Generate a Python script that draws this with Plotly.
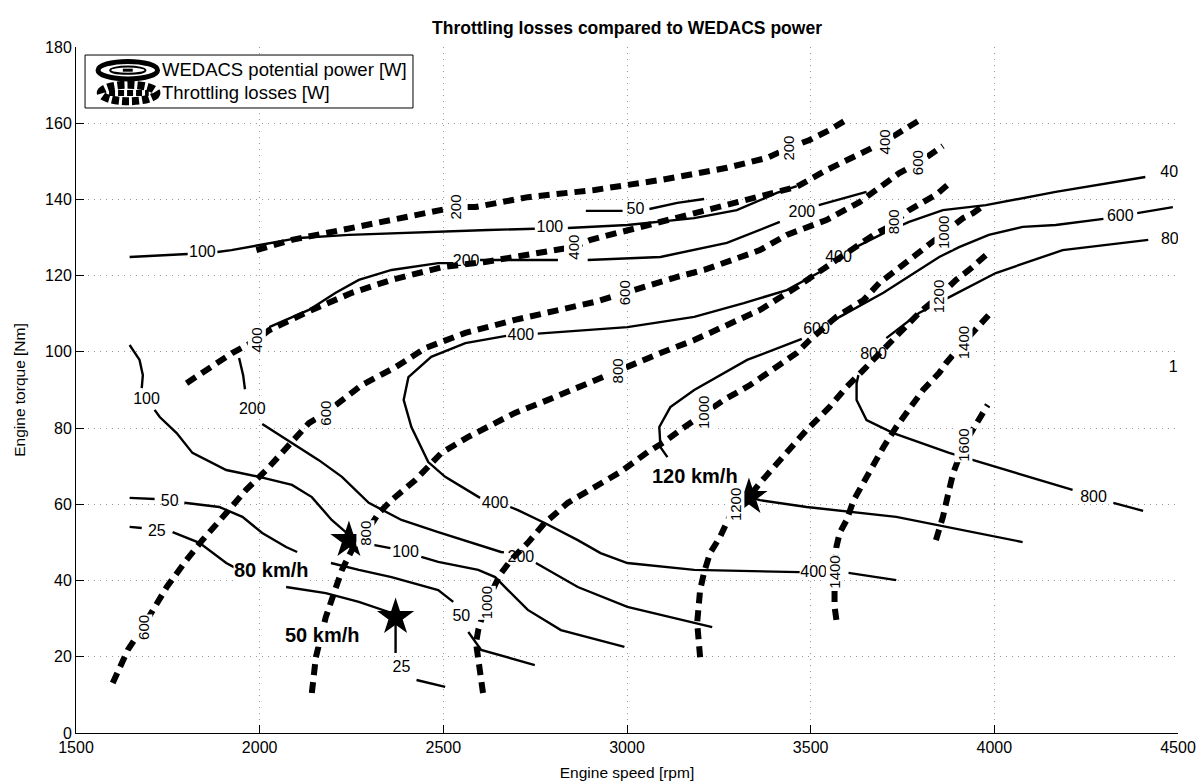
import plotly.graph_objects as go

# ---------------- WEDACS potential power contours [W] (solid) ----------------
# None entries break the line where a contour label sits
w100_top_rpm = [1646, 1804, None, 1885, 1923, 2004, 2107, 2243, 2459, 2622, 2749, None, 2839, 3001, 3183, 3299, 3408, 3462]
w100_top_tq = [124.9, 125.7, None, 126.2, 126.7, 128.1, 129.9, 130.7, 131.5, 132.0, 132.3, None, 132.5, 133.3, 135.1, 137.2, 141.7, 143.5]

w50_top_rpm = [2888, 2988, None, 3061, 3137, 3210]
w50_top_tq = [137.0, 137.0, None, 137.5, 139.1, 140.1]

w200_top_rpm = [2026, 2134, 2207, 2270, 2359, 2486, 2527, None, 2600, 2812, None, 2893, 3091, 3272, 3416, None, 3522, 3652]
w200_top_tq = [106.5, 111.0, 115.5, 118.9, 121.5, 123.3, 123.3, None, 124.1, 124.1, None, 124.1, 124.9, 128.6, 134.1, None, 138.5, 142.0]

w400_rpm = [3733, 3603, None, 3470, 3183, 3001, 2928, 2866, 2776, 2703, 2682, None, 2600, 2505, 2459, 2413, 2392,
            2405, 2467, 2560, 2671, None, 2757, 3001, 3183, 3318, 3435, 3535, None, 3619, 3706, 3768, 3822, 3860,
            3977, 4167, 4411]
w400_tq = [40.1, 42.0, None, 42.2, 42.8, 44.6, 47.2, 50.6, 55.1, 58.5, 59.3, None, 61.7, 67.2, 71.1, 80.3, 87.4,
           93.4, 98.7, 102.3, 104.2, None, 104.8, 106.5, 109.2, 112.8, 116.2, 121.5, None, 127.3, 131.5, 134.1, 135.9, 137.2,
           138.5, 142.0, 145.9]

w600_rpm = [3110, 3091, 3088, 3118, 3183, 3327, 3476, None, 3557, 3579, 3698, 3787, 3850, 3904, 3985, 4077, 4167, 4297, None, 4389, 4486]
w600_tq = [72.4, 75.0, 80.3, 85.5, 90.0, 97.9, 103.4, None, 107.8, 109.2, 115.5, 121.0, 124.9, 127.5, 130.7, 132.8, 133.3, 134.9, None, 136.4, 138.0]

w800_rpm = [4405, 4324, None, 4213, 3958, 3877, 3725, 3652, 3625, 3625, 3630, None, 3706, 3795, 3888, 4004, 4186, 4419]
w800_tq = [58.3, 60.4, None, 63.8, 71.1, 73.5, 78.7, 82.1, 87.4, 91.8, 93.9, None, 103.6, 110.2, 114.9, 120.7, 126.7, 129.4]

w100_low_rpm = [1646, 1673, 1682, 1679, None, 1714, 1728, 1774, 1817, 1909, 1999, 2088, 2142, 2196, 2243, 2270, 2356,
                None, 2440, 2486, 2595, 2641, 2676, 2730, 2820, 2993]
w100_low_tq = [101.8, 97.9, 93.9, 90.5, None, 84.8, 82.9, 78.7, 73.5, 69.0, 67.2, 65.1, 61.9, 55.9, 52.0, 50.1, 48.5,
               None, 46.2, 44.9, 42.8, 40.9, 37.5, 32.3, 27.0, 22.6]

w200_low_rpm = [1944, 1955, 1960, None, 2007, 2088, 2161, 2224, 2297, 2386, 2486, 2657, 2665, None, 2752, 2866, 3001, 3232]
w200_low_tq = [98.4, 93.9, 90.2, None, 81.1, 76.1, 71.6, 67.2, 60.4, 55.9, 52.7, 47.5, 47.4, None, 44.6, 38.3, 33.1, 27.8]

w50_low_rpm = [1646, 1714, None, 1795, 1890, 1953, 2007, 2072, 2102, None, 2194, 2270, 2359, 2486, 2527, None, 2568, 2603, 2749]
w50_low_tq = [61.7, 61.4, None, 60.4, 59.3, 56.7, 52.5, 48.8, 47.5, None, 44.6, 42.8, 40.9, 37.5, 34.4, None, 26.5, 21.8, 17.8]

w25_rpm = [1646, 1679, None, 1763, 1836, 1909, 1944, None, 2072, 2180, 2270, 2359, 2370, 2370, None, 2427, 2486, 2505]
w25_tq = [54.1, 53.8, None, 52.7, 49.9, 44.6, 42.8, None, 38.3, 36.7, 34.4, 31.5, 30.4, 21.0, None, 13.9, 12.6, 12.1]

w_hi_rpm = [3332, 3362, 3489, 3733, 4077]
w_hi_tq = [61.9, 61.1, 59.3, 56.7, 50.1]

# labels on the solid contours (the ones near 4500 rpm are cut by the right border)
wlab_rpm = [1844, 2790, 3023, 2562, 3476, 3508, 2641, 2711, 3576, 4488, 3516, 4343, 4270, 3671, 4490, 4487,
            1692, 2397, 1980, 2711, 1755, 2549, 1720, 2386]
wlab_tq = [126.0, 132.5, 137.2, 123.6, 136.4, 42.0, 60.1, 104.2, 124.6, 146.9, 105.7, 135.4, 61.7, 99.2, 129.4, 95.8,
           87.4, 47.2, 84.8, 45.9, 60.6, 30.4, 52.7, 17.1]
wlab_text = ["100", "100", "50", "200", "200", "400", "400", "400", "400", "400", "600", "600", "800", "800", "800", "1",
             "100", "100", "200", "200", "50", "50", "25", "25"]

# ---------------- Throttling losses contours [W] (thick dashed) ----------------
t200_rpm = [1991, 2088, 2224, 2359, 2467, 2533, 2587, 2730, 2912, 3091, 3272, 3381, 3440, 3497, 3551, 3592]
t200_tq = [126.7, 129.4, 132.0, 134.6, 136.4, 138.0, 138.0, 140.6, 142.5, 145.1, 148.3, 150.9, 153.5, 155.6, 158.2, 160.6]

t400_rpm = [1801, 1855, 1925, 1991, 2026, 2142, 2251, 2359, 2459, 2500, 2614, 2785, 2852, 2901, 3056, 3191, 3327,
            3462, 3543, 3617, 3701, 3752, 3793]
t400_tq = [91.8, 95.3, 99.7, 103.1, 105.7, 111.0, 115.5, 118.9, 121.5, 122.3, 123.6, 126.2, 127.5, 129.4, 133.3, 136.4, 139.9,
           143.3, 147.7, 151.1, 155.1, 158.2, 160.6]

t600_rpm = [1600, 1641, 1682, 1720, 1747, 1801, 1844, 1909, 1963, 2018, 2072, 2134, 2180, 2224, 2278, 2370, 2451, 2560,
            2695, 2912, 2993, 3056, 3137, 3210, 3272, 3362, 3435, 3543, 3633, 3698, 3741, 3793, 3841, 3860]
t600_tq = [13.1, 21.8, 27.8, 34.1, 38.3, 45.4, 50.6, 57.7, 63.8, 69.0, 75.0, 81.3, 84.0, 87.4, 91.3, 96.0, 101.0, 105.0,
           108.4, 113.1, 115.5, 117.0, 119.7, 121.5, 123.6, 126.7, 130.7, 134.6, 139.3, 143.8, 146.9, 149.6, 153.0, 154.0]

t800_rpm = [2142, 2153, 2180, 2207, 2224, 2251, 2289, 2324, 2359, 2424, 2495, 2568, 2695, 2785, 2912, 2974, 3020, 3091,
            3183, 3272, 3362, 3462, 3535, 3570, 3671, 3706, 3728, 3768, 3841, 3882]
t800_tq = [10.5, 19.9, 30.4, 37.5, 42.8, 48.0, 52.5, 57.7, 61.1, 66.4, 73.5, 77.7, 84.0, 87.4, 92.6, 95.0, 97.1, 99.7,
           103.1, 107.1, 111.0, 117.0, 121.5, 124.1, 130.7, 132.5, 134.1, 137.2, 141.2, 144.6]

t1000_rpm = [2608, 2595, 2589, 2595, 2617, 2654, 2684, 2730, 2776, 2839, 2912, 2982, 3056, 3102, 3145, 3210, 3264, 3335,
             3462, 3497, 3570, 3644, 3687, 3733, 3795, 3863, 3915, 3942, 3977]
t1000_tq = [10.5, 18.4, 23.6, 27.0, 34.1, 41.5, 45.4, 49.9, 55.1, 60.4, 64.6, 68.5, 73.7, 76.4, 79.5, 84.0, 87.4, 91.3,
            99.7, 103.1, 109.2, 113.6, 118.1, 121.5, 126.0, 131.2, 135.1, 136.4, 138.8]

t1200_rpm = [3199, 3191, 3199, 3210, 3226, 3253, 3294, 3332, 3362, 3408, 3454, 3489, 3551, 3598, 3644, 3698, 3752, 3795,
             3847, 3896, 3931, 3977]
t1200_tq = [19.9, 28.9, 37.5, 42.2, 47.2, 51.4, 59.8, 61.9, 65.6, 70.8, 76.1, 79.5, 85.5, 90.8, 95.3, 100.5, 105.7, 110.2,
            114.4, 118.9, 121.5, 125.4]

t1400_rpm = [3570, 3565, 3565, 3570, 3579, 3598, 3617, 3652, 3679, 3698, 3733, 3768, 3806, 3850, 3869, 3915, 3969, 3985]
t1400_tq = [29.7, 33.2, 42.2, 48.8, 52.5, 55.9, 61.1, 67.2, 71.6, 75.0, 80.3, 84.8, 90.0, 94.5, 97.1, 102.3, 107.8, 109.7]

t1600_rpm = [3841, 3860, 3877, 3888, 3917, 3955, 3982]
t1600_tq = [50.6, 56.7, 63.8, 68.2, 75.6, 82.1, 86.1]

# labels on the dashed contours
tlab_rpm = [2533, 3440, 1991, 2852, 3701, 1682, 2180, 2993, 3793, 2289, 2974, 3728, 2617, 3210, 3863, 3294, 3847,
            3565, 3915, 3917]
tlab_tq = [138.0, 153.5, 103.1, 127.5, 155.1, 27.8, 84.0, 115.5, 149.6, 52.5, 95.0, 134.1, 34.1, 84.0, 131.2, 59.8, 114.4,
           42.2, 102.3, 75.6]
tlab_text = ["200", "200", "400", "400", "400", "600", "600", "600", "600", "800", "800", "800", "1000", "1000", "1000",
             "1200", "1200", "1400", "1400", "1600"]

# ---------------- Cruise operating points ----------------
op_rpm = [2370, 2243, 3332]
op_tq = [30.4, 50.6, 61.9]
op_text = ["50 km/h", "80 km/h", "120 km/h"]
op_lab_rpm = [2170, 2031, 3185]
op_lab_tq = [25.7, 42.8, 67.5]

x_ticks = [1500, 2000, 2500, 3000, 3500, 4000, 4500]
y_ticks = [0, 20, 40, 60, 80, 100, 120, 140, 160, 180]

legend_names = ["WEDACS potential power [W]", "Throttling losses [W]"]

FONT = "Liberation Sans, Arial, Helvetica, sans-serif"
SOLID = dict(color="black", width=2.4)
DASHED = dict(color="black", width=6, dash="11px,7px")

fig = go.Figure()

solid_curves = [
    (w100_top_rpm, w100_top_tq), (w50_top_rpm, w50_top_tq), (w200_top_rpm, w200_top_tq),
    (w400_rpm, w400_tq), (w600_rpm, w600_tq), (w800_rpm, w800_tq),
    (w100_low_rpm, w100_low_tq), (w200_low_rpm, w200_low_tq), (w50_low_rpm, w50_low_tq),
    (w25_rpm, w25_tq), (w_hi_rpm, w_hi_tq),
]
for xs, ys in solid_curves:
    fig.add_trace(go.Scatter(x=xs, y=ys, mode="lines", line=SOLID, showlegend=False,
                             hoverinfo="skip", connectgaps=False))

# solid-contour labels go under the dashed lines
fig.add_trace(go.Scatter(x=wlab_rpm, y=wlab_tq, text=wlab_text, mode="text",
                         textfont=dict(family=FONT, size=16, color="black"),
                         showlegend=False, hoverinfo="skip", cliponaxis=True))

dashed_curves = [
    (t200_rpm, t200_tq), (t400_rpm, t400_tq), (t600_rpm, t600_tq), (t800_rpm, t800_tq),
    (t1000_rpm, t1000_tq), (t1200_rpm, t1200_tq), (t1400_rpm, t1400_tq), (t1600_rpm, t1600_tq),
]
for xs, ys in dashed_curves:
    fig.add_trace(go.Scatter(x=xs, y=ys, mode="lines", line=DASHED, showlegend=False,
                             hoverinfo="skip"))

# operating points
fig.add_trace(go.Scatter(x=op_rpm, y=op_tq, mode="markers",
                         marker=dict(symbol="star", size=28, color="black"),
                         showlegend=False, hoverinfo="skip"))

# dashed-contour labels, masking whatever lies beneath
for xv, yv, tv in zip(tlab_rpm, tlab_tq, tlab_text):
    fig.add_annotation(x=xv, y=yv, text=tv, showarrow=False, textangle=-90,
                       font=dict(family=FONT, size=15, color="black"),
                       bgcolor="white", borderpad=0)

for xv, yv, tv in zip(op_lab_rpm, op_lab_tq, op_text):
    fig.add_annotation(x=xv, y=yv, text="<b>%s</b>" % tv, showarrow=False,
                       font=dict(family=FONT, size=20, color="black"),
                       bgcolor="white", borderpad=0)

# ---- legend box (drawn by hand to get the contour-style glyphs) ----
P = dict(xref="paper", yref="paper", layer="above")
fig.add_shape(type="rect", x0=0.0082, x1=0.3058, y0=0.9111, y1=0.9883,
              line=dict(color="black", width=1), fillcolor="white", **P)
# solid-contour glyph: thick ring with an inner ring and a centre dash
fig.add_shape(type="circle", x0=0.0200, x1=0.0740, y0=0.9535, y1=0.9790,
              line=dict(color="black", width=5), fillcolor="white", **P)
fig.add_shape(type="circle", x0=0.0310, x1=0.0630, y0=0.9610, y1=0.9715,
              line=dict(color="black", width=2), fillcolor="white", **P)
fig.add_shape(type="line", x0=0.0425, x1=0.0515, y0=0.9662, y1=0.9662,
              line=dict(color="black", width=3), **P)
# dashed-contour glyph: blob of heavy dashes
fig.add_shape(type="circle", x0=0.0225, x1=0.0730, y0=0.9210, y1=0.9450,
              line=dict(color="black", width=8, dash="7px,3px"), fillcolor="white", **P)
fig.add_shape(type="line", x0=0.0300, x1=0.0660, y0=0.9330, y1=0.9330,
              line=dict(color="black", width=6, dash="6px,3px"), **P)
for i, name in enumerate(legend_names):
    fig.add_annotation(x=0.0760, y=0.9665 - i * 0.0335, xref="paper", yref="paper",
                       text=name, showarrow=False, xanchor="left", yanchor="middle",
                       font=dict(family=FONT, size=18.5, color="black"))

axis_common = dict(
    showline=True, linecolor="black", linewidth=1, mirror=False,
    ticks="inside", ticklen=8, tickcolor="black", tickwidth=1,
    showgrid=True, gridcolor="#9a9a9a", griddash="1px,5px", gridwidth=1,
    zeroline=False, tickfont=dict(family=FONT, size=16, color="black"),
    automargin=False,
)

fig.update_layout(
    width=1201, height=781,
    margin=dict(l=76, r=23, t=47, b=48),
    paper_bgcolor="white", plot_bgcolor="white",
    font=dict(family=FONT, size=16, color="black"),
    showlegend=False,
    title=dict(text="<b>Throttling losses compared to WEDACS power</b>",
               x=0.5, xref="paper", xanchor="center",
               y=0.964, yref="container", yanchor="middle",
               font=dict(family=FONT, size=17.5, color="black")),
    xaxis=dict(range=[1500, 4500], tickvals=x_ticks,
               title=dict(text="Engine speed [rpm]", font=dict(family=FONT, size=15.5), standoff=12),
               **axis_common),
    yaxis=dict(range=[0, 180], tickvals=y_ticks,
               title=dict(text="Engine torque [Nm]", font=dict(family=FONT, size=15.5), standoff=15),
               **axis_common),
)

fig.write_html("out.html")
